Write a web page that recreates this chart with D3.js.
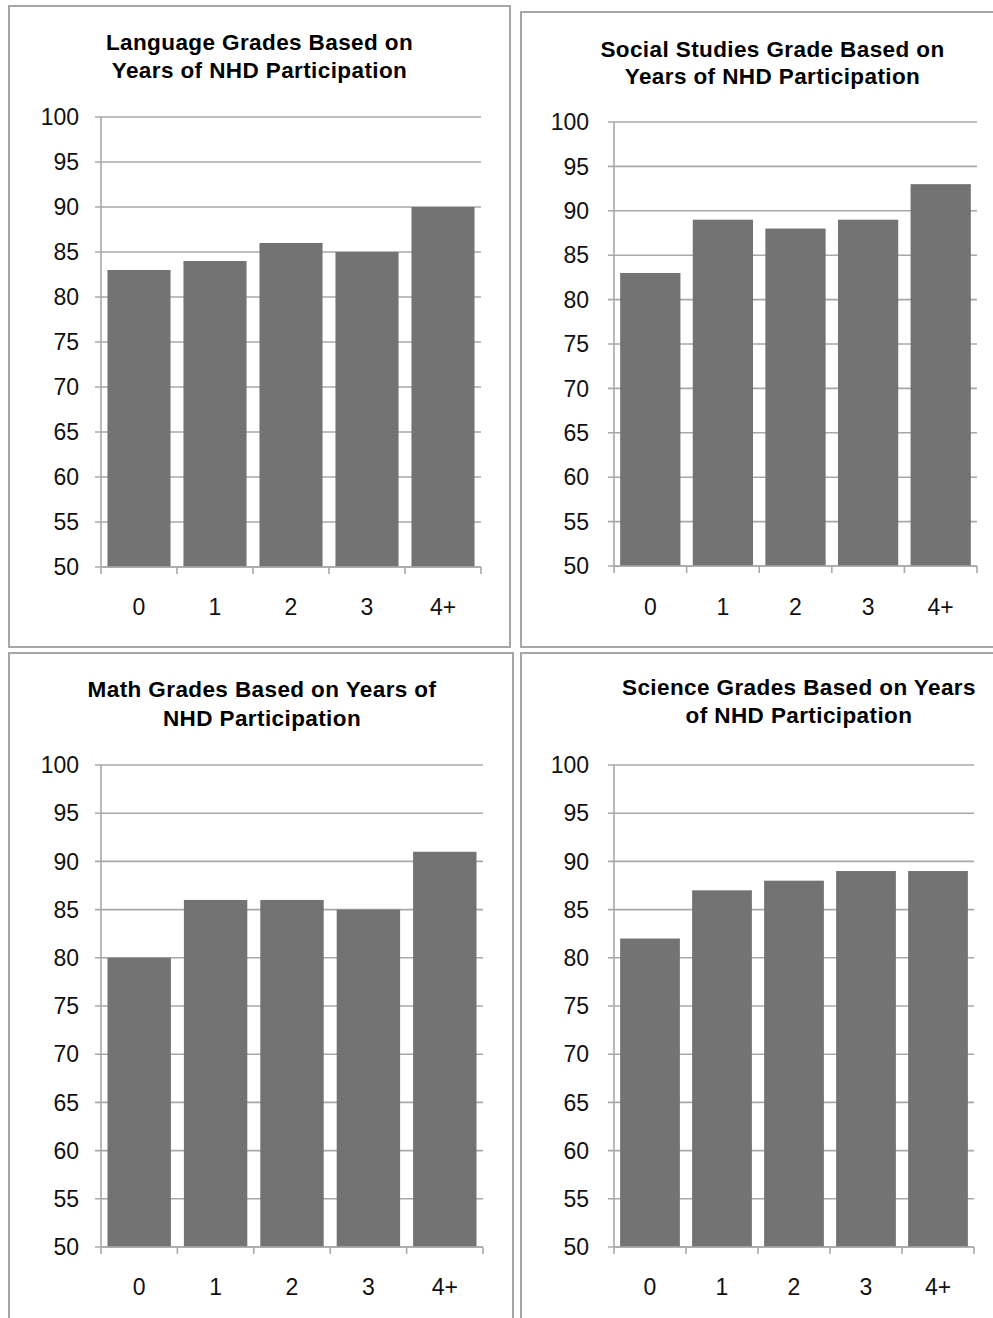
<!DOCTYPE html>
<html><head><meta charset="utf-8">
<script src="https://cdn.jsdelivr.net/npm/d3@7"></script>
<style>
html,body{margin:0;padding:0;background:#fff;}
svg{display:block;}
</style></head>
<body>
<svg id="c" width="993" height="1318"></svg>
<script>
// ---- data ----
const categories = ["0", "1", "2", "3", "4+"];
const languageGrades = [83, 84, 86, 85, 90];
const socialStudiesGrades = [83, 89, 88, 89, 93];
const mathGrades = [80, 86, 86, 85, 91];
const scienceGrades = [82, 87, 88, 89, 89];
const yTicks = [50, 55, 60, 65, 70, 75, 80, 85, 90, 95, 100];
const titles = [
  ["Language Grades Based on", "Years of NHD Participation"],
  ["Social Studies Grade Based on", "Years of NHD Participation"],
  ["Math Grades Based on Years of", "NHD Participation"],
  ["Science Grades Based on Years", "of NHD Participation"]
];

// ---- layout ----
const panels = [
  {values: languageGrades, title: titles[0], box:[9,6,510,647], x0:101, x1:481, yTop:117, yBot:567, tx:259.5, ty:[50,78], lblX:79, xlY:615},
  {values: socialStudiesGrades, title: titles[1], box:[521,12,1024,647], x0:614, x1:977, yTop:122, yBot:566, tx:772.5, ty:[57,84], lblX:589, xlY:615},
  {values: mathGrades, title: titles[2], box:[9,653,513,1330], x0:101, x1:483, yTop:765, yBot:1247, tx:262, ty:[697,726], lblX:79, xlY:1295},
  {values: scienceGrades, title: titles[3], box:[521,653,1024,1330], x0:614, x1:974, yTop:765, yBot:1247, tx:799, ty:[695,723], lblX:589, xlY:1295}
];

const svg = d3.select("#c");
const gridColor = "#a8a8a8";
const barColor = "#737373";
const textColor = "#111";
const font = "'Liberation Sans', Arial, Helvetica, sans-serif";

panels.forEach(p => {
  const g = svg.append("g");
  const [bx0, by0, bx1, by1] = p.box;
  g.append("rect").attr("x", bx0).attr("y", by0).attr("width", bx1 - bx0).attr("height", by1 - by0)
    .attr("fill", "none").attr("stroke", "#a6a6a6").attr("stroke-width", 2);

  const x = d3.scaleBand().domain(categories).range([p.x0, p.x1]).paddingInner(0.17).paddingOuter(0.085);
  const y = d3.scaleLinear().domain([50, 100]).range([p.yBot, p.yTop]);

  // gridlines
  g.selectAll("line.grid").data(yTicks).join("line").attr("class", "grid")
    .attr("x1", p.x0 - 6).attr("x2", p.x1).attr("y1", d => y(d)).attr("y2", d => y(d))
    .attr("stroke", gridColor).attr("stroke-width", 1.6);

  // bars
  g.selectAll("rect.bar").data(p.values).join("rect").attr("class", "bar")
    .attr("x", (d, i) => x(categories[i])).attr("width", x.bandwidth())
    .attr("y", d => y(d)).attr("height", d => y(50) - y(d))
    .attr("fill", barColor);

  // y axis line
  g.append("line").attr("x1", p.x0).attr("x2", p.x0).attr("y1", y(100)).attr("y2", y(50))
    .attr("stroke", gridColor).attr("stroke-width", 1.6);
  // x axis line
  g.append("line").attr("x1", p.x0).attr("x2", p.x1).attr("y1", y(50)).attr("y2", y(50))
    .attr("stroke", gridColor).attr("stroke-width", 1.6);

  // x tick marks at band boundaries
  const step = x.step();
  const bounds = d3.range(categories.length + 1).map(i => p.x0 + i * step);
  g.selectAll("line.xt").data(bounds).join("line").attr("class", "xt")
    .attr("x1", d => d).attr("x2", d => d).attr("y1", y(50)).attr("y2", y(50) + 7)
    .attr("stroke", gridColor).attr("stroke-width", 1.6);

  // y labels
  g.selectAll("text.yl").data(yTicks).join("text").attr("class", "yl")
    .attr("x", p.lblX).attr("y", d => y(d)).attr("dy", "0.36em")
    .attr("text-anchor", "end")
    .attr("font-family", font)
    .attr("font-size", 23).attr("fill", textColor).text(d => d);

  // x labels
  g.selectAll("text.xl").data(categories).join("text").attr("class", "xl")
    .attr("x", d => x(d) + x.bandwidth() / 2).attr("y", p.xlY)
    .attr("text-anchor", "middle")
    .attr("font-family", font)
    .attr("font-size", 23).attr("fill", textColor).text(d => d);

  // title
  p.title.forEach((line, i) => {
    g.append("text").attr("x", p.tx).attr("y", p.ty[i])
      .attr("text-anchor", "middle")
      .attr("font-family", font)
      .attr("font-weight", "bold").attr("font-size", 22.5)
      .attr("letter-spacing", "0.4px")
      .attr("fill", "#000").text(line);
  });
});
</script>
</body></html>
